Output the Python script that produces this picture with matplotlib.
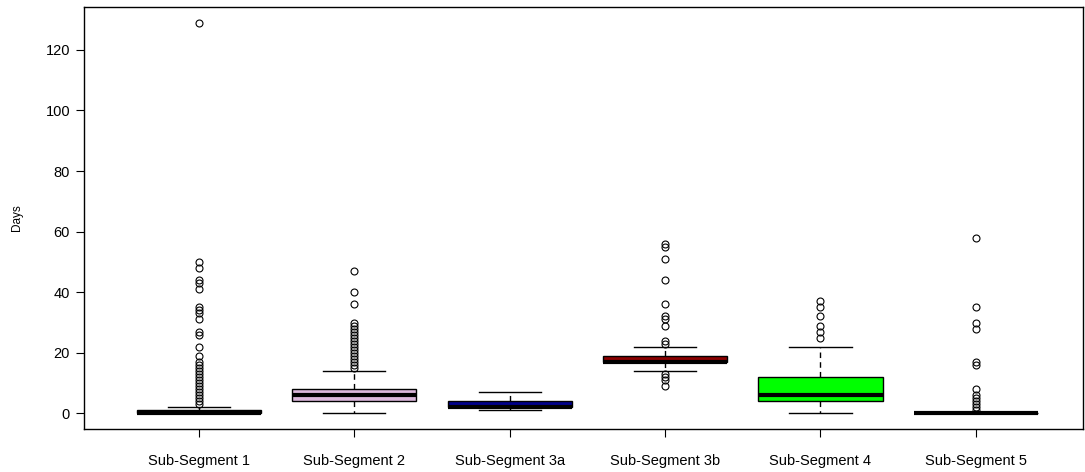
import matplotlib.pyplot as plt

plt.rcParams['font.family'] = ['Liberation Sans', 'DejaVu Sans']

# segment names and box colours
segments = ['Sub-Segment 1', 'Sub-Segment 2', 'Sub-Segment 3a',
            'Sub-Segment 3b', 'Sub-Segment 4', 'Sub-Segment 5']
colors = ['#d6c9a6', '#dcb8dc', '#00008b', '#8b0000', '#00ff00', '#000000']

# five-number summaries (days)
whislo = [0, 0, 1, 14, 0, 0]
q1 = [0, 4, 2, 17, 4, 0]
med = [0, 6, 2, 17, 6, 0]
q3 = [1, 8, 4, 19, 12, 0]
whishi = [2, 14, 7, 22, 22, 0]

# outliers
fliers_1 = [3, 4, 5, 6, 7, 8, 9, 10, 11, 12, 13, 14, 15, 16, 17, 19, 22,
            26, 27, 31, 33, 34, 35, 41, 43, 44, 48, 50, 129]
fliers_2 = [15, 16, 17, 18, 19, 20, 21, 22, 23, 24, 25, 26, 27, 28, 29, 30,
            36, 40, 47]
fliers_3a = []
fliers_3b = [9, 11, 12, 13, 23, 24, 29, 31, 32, 36, 44, 51, 55, 56]
fliers_4 = [25, 27, 29, 32, 35, 37]
fliers_5 = [1, 2, 3, 4, 5, 6, 8, 16, 17, 28, 30, 35, 58]
fliers = [fliers_1, fliers_2, fliers_3a, fliers_3b, fliers_4, fliers_5]

stats = []
for i, name in enumerate(segments):
    stats.append({'label': name, 'whislo': whislo[i], 'q1': q1[i], 'med': med[i],
                  'q3': q3[i], 'whishi': whishi[i], 'fliers': fliers[i]})

fig = plt.figure(figsize=(10.85, 4.72), dpi=100)
ax = fig.add_axes([84 / 1085, 1 - 429 / 472, 999 / 1085, 422 / 472])

bp = ax.bxp(stats, widths=0.8, patch_artist=True,
            boxprops=dict(edgecolor='black', linewidth=1),
            medianprops=dict(color='black', linewidth=3, solid_capstyle='butt'),
            whiskerprops=dict(color='black', linewidth=1, linestyle=(0, (4, 3))),
            capprops=dict(color='black', linewidth=1),
            flierprops=dict(marker='o', markersize=5, markerfacecolor='none',
                            markeredgecolor='black', markeredgewidth=0.8),
            capwidths=0.4)
for patch, c in zip(bp['boxes'], colors):
    patch.set_facecolor(c)

ax.set_xlim(0.26, 6.69)
ax.set_ylim(-5.16, 134.16)
ax.set_yticks([0, 20, 40, 60, 80, 100, 120])
ax.tick_params(axis='both', direction='out', length=6, labelsize=10.5, pad=4)
ax.tick_params(axis='x', pad=12)
ax.set_ylabel('Days', fontsize=8.5, labelpad=16)
for s in ax.spines.values():
    s.set_linewidth(1)

fig.savefig('out.png', dpi=100)
